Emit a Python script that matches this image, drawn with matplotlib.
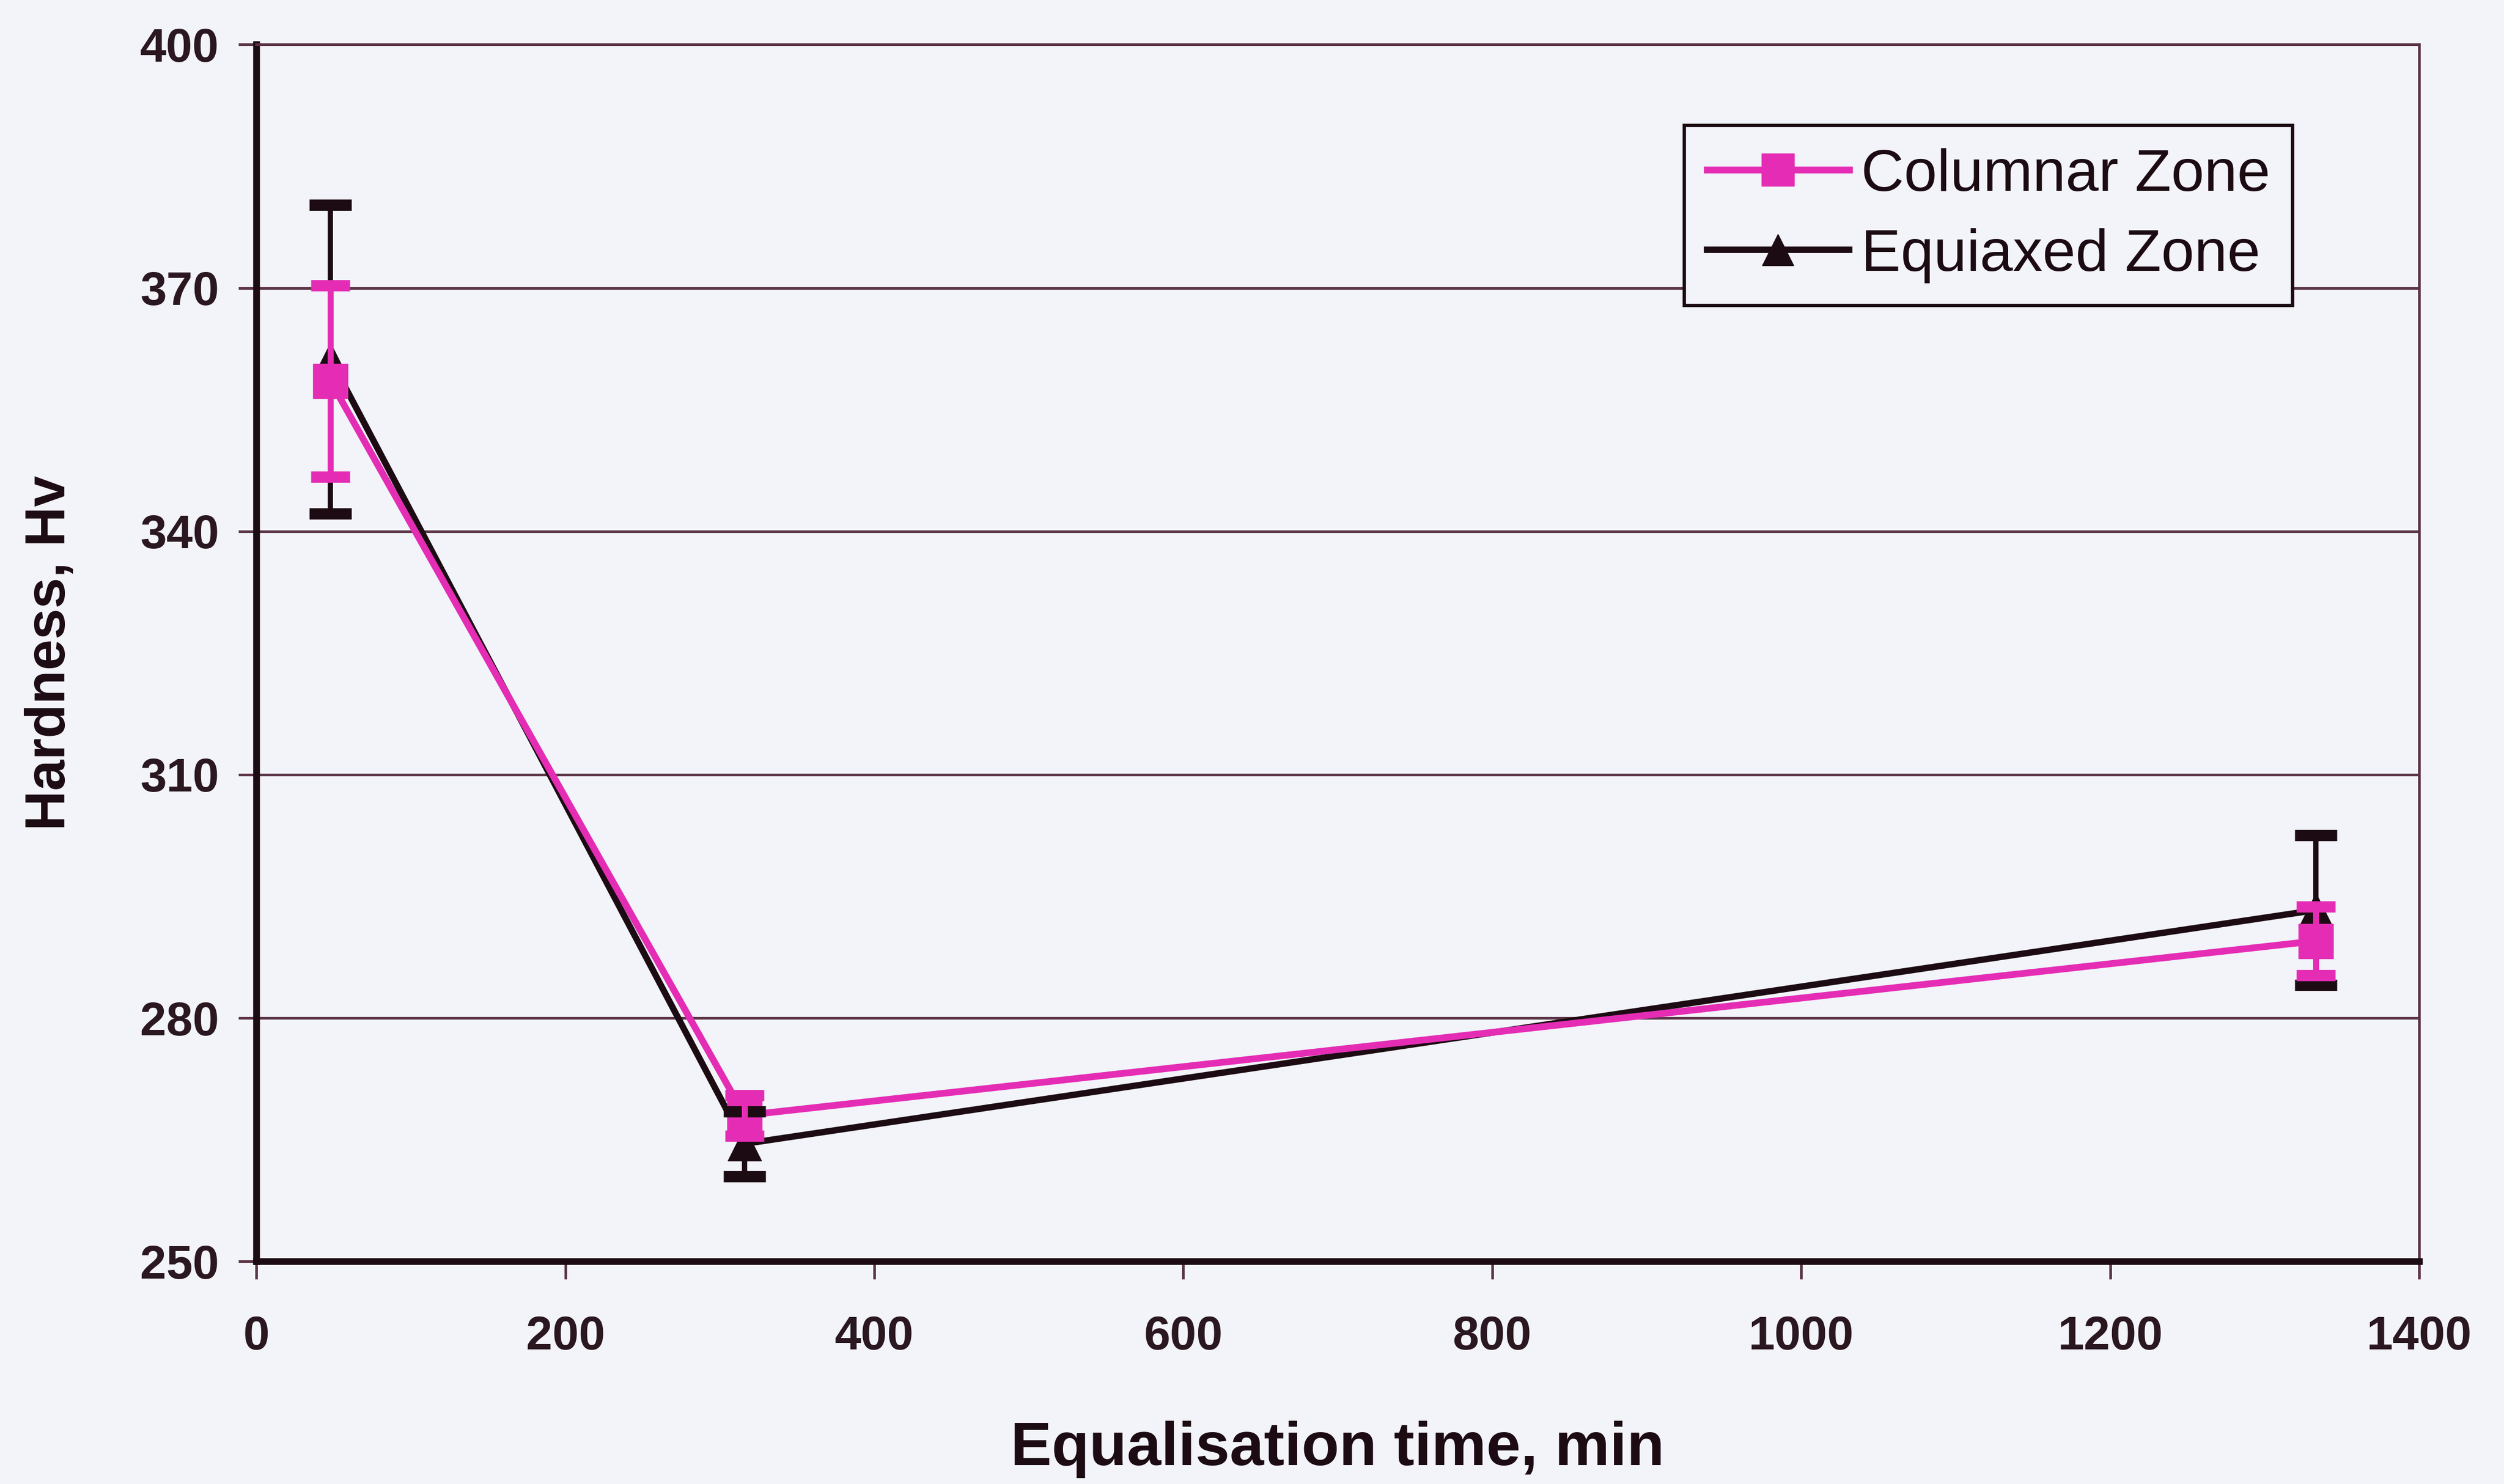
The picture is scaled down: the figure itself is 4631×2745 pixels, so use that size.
import matplotlib
matplotlib.use("Agg")
import matplotlib.pyplot as plt

# Data
time_min = [48, 316, 1333]
columnar_hv = [358.5, 268.0, 289.5]
columnar_err = [11.8, 2.5, 4.2]
equiaxed_hv = [361.2, 264.5, 293.3]
equiaxed_err = [19.0, 4.0, 9.2]

x_ticks = [0, 200, 400, 600, 800, 1000, 1200, 1400]
y_ticks = [250, 280, 310, 340, 370, 400]

pink = '#E42DB4'
black = '#1c0b12'
grid_col = '#5a3344'
bg = '#F2F4FA'

plt.rcParams['font.family'] = ['Liberation Sans', 'DejaVu Sans']

fig = plt.figure(figsize=(46.31, 27.45), dpi=100, facecolor=bg)
ax = fig.add_axes([0.1024, 0.150, 0.8637, 0.820])
ax.set_facecolor(bg)

# lines + markers
ax.plot(time_min, equiaxed_hv, color=black, lw=8.5, marker='^', ms=44,
        mec=black, mfc=black, zorder=3, label='Equiaxed Zone')
ax.plot(time_min, columnar_hv, color=pink, lw=9, marker='s', ms=46,
        mec=pink, mfc=pink, zorder=4, label='Columnar Zone')

# error bars
ax.errorbar(time_min, equiaxed_hv, yerr=equiaxed_err, fmt='none', ecolor=black,
            elinewidth=7, capsize=28, capthick=15, zorder=5)
ax.errorbar(time_min, columnar_hv, yerr=columnar_err, fmt='none', ecolor=pink,
            elinewidth=8, capsize=26, capthick=15, zorder=6)

ax.set_xlim(0, 1400)
ax.set_ylim(250, 400)
ax.set_xticks(x_ticks)
ax.set_yticks(y_ticks)

ax.yaxis.grid(True, color=grid_col, lw=3.5)
ax.set_axisbelow(True)

for side in ['left', 'bottom']:
    ax.spines[side].set_linewidth(9)
    ax.spines[side].set_color(black)
for side in ['top', 'right']:
    ax.spines[side].set_linewidth(3.5)
    ax.spines[side].set_color(grid_col)

ax.tick_params(axis='both', direction='out', length=24, width=3.5,
               colors=grid_col, labelcolor='#2a1720', labelsize=63)
ax.tick_params(axis='x', pad=48)
ax.tick_params(axis='y', pad=26)
for lbl in ax.get_xticklabels() + ax.get_yticklabels():
    lbl.set_fontweight('bold')

ax.set_xlabel('Equalisation time, min', fontsize=82, fontweight='bold', color=black)
ax.set_ylabel('Hardness, Hv', fontsize=74, fontweight='bold', color=black)
ax.xaxis.set_label_coords(0.5, -0.131)
ax.yaxis.set_label_coords(-0.083, 0.5)

handles, labels = ax.get_legend_handles_labels()
leg = fig.legend(handles[::-1], labels[::-1], loc='upper right',
                 bbox_to_anchor=(0.9156, 0.9155), fontsize=79,
                 frameon=True, fancybox=False, framealpha=1,
                 edgecolor=black, facecolor=bg, handlelength=2.4,
                 handletextpad=0.2, borderpad=0.38, labelspacing=0.42,
                 borderaxespad=0, markerscale=0.95)
leg.get_frame().set_linewidth(4.5)
for t in leg.get_texts():
    t.set_color(black)

fig.savefig('out.png', dpi=100, facecolor=bg)
